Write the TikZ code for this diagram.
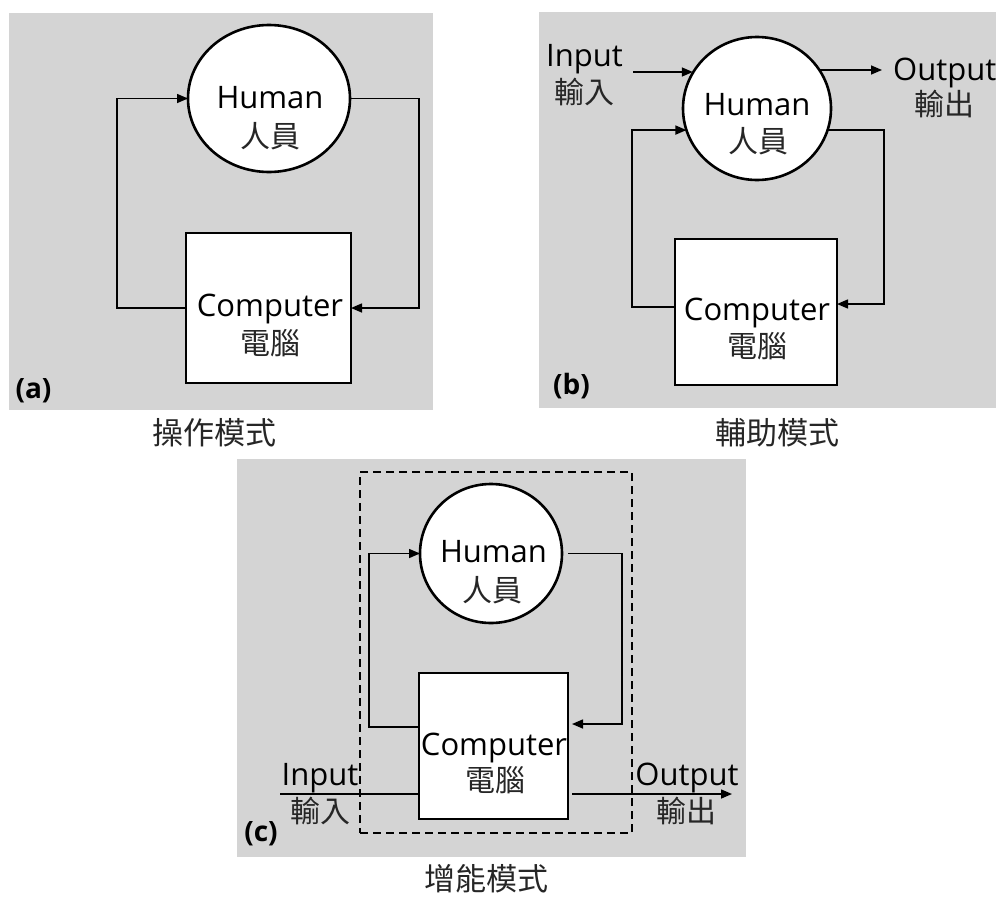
\documentclass[tikz,border=0pt]{standalone}
\usepackage{fontspec}
\setmainfont{Open Sans}
\newfontfamily\cjk{Noto Sans CJK TC}
\usetikzlibrary{arrows.meta,shapes.geometric}
\definecolor{panelgray}{RGB}{212,212,212}

\begin{document}
\begin{tikzpicture}[x=1pt,y=-1pt,
  panel/.style={fill=panelgray,draw=none},
  human/.style={ellipse,draw=black,line width=2.6pt,fill=white,inner sep=0,outer sep=0},
  machine/.style={rectangle,draw=black,line width=2.6pt,fill=white,inner sep=0,outer sep=0},
  augbox/.style={rectangle,draw=black,line width=2.6pt,dash pattern=on 8pt off 5pt,inner sep=0,outer sep=0},
  link/.style={draw=black,line width=1.5pt},
  flow/.style={link,-{Triangle[length=11pt,width=9pt]}},
  lat/.style={font=\fontsize{31}{36}\selectfont,inner sep=0},
  zh/.style={font=\fontsize{30}{36}\selectfont\cjk,inner sep=0,text=black!85},
  tag/.style={font=\fontsize{28}{32}\selectfont\bfseries,inner sep=0},
  modecap/.style={font=\fontsize{31}{36}\selectfont\cjk,inner sep=0,text=black!85}]

\useasboundingbox (0,0) rectangle (996,897);
\clip (0,0) rectangle (996,897);

% grey panels
\fill[panel] (9,13) rectangle (433,410);
\fill[panel] (539,12) rectangle (996,408);
\fill[panel] (237,459) rectangle (746,857);

% ---------- (a) operation mode ----------
\node[human,minimum width=162pt,minimum height=147pt] (ha) at (269,98.5) {};
\node[machine,minimum width=165pt,minimum height=150pt] (ca) at (268.5,308) {};
\node[lat] (ha1) at (270,98) {Human};
\node[zh] (ha2) at (270,136) {人員};
\node[lat,anchor=base] (ca1) at (270,316) {Computer};
\node[zh] (ca2) at (270,343.5) {電腦};
\coordinate (al) at (117,200);
\coordinate (ar) at (419,200);
\draw[flow] (ca.west) -- (al |- ca.west) |- (ha.west);
\draw[flow] (ha.east) -- (ar |- ha.east) |- (ca.east);
\node[tag] (ta) at (33.5,390.5) {(a)};
\node[modecap] (capa) at (214,433) {操作模式};

% ---------- (b) assistance mode ----------
\node[human,minimum width=148pt,minimum height=143pt] (hb) at (757,108.5) {};
\node[machine,minimum width=162pt,minimum height=146pt] (cb) at (756,312) {};
\node[lat] (hb1) at (757,105) {Human};
\node[zh] (hb2) at (758,141.5) {人員};
\node[lat,anchor=base] (cb1) at (757,320) {Computer};
\node[zh] (cb2) at (757,346.5) {電腦};
\coordinate (bl) at (632,200);
\coordinate (br) at (884,200);
\coordinate (bfl) at ([yshift=5pt]cb.west);
\coordinate (bfr) at ([yshift=8pt]cb.east);
\draw[flow] (bfl) -- (bl |- bfl) |- (hb.197);
\draw[flow] (hb.343) -- (br |- hb.343) |- (bfr);
\coordinate (inb) at (633,72);
\coordinate (outb) at (882,70);
\draw[flow] (inb) -- (inb -| hb.151);
\draw[flow] (outb -| hb.31) -- (outb);
\node[lat,anchor=base] (inb1) at (584.5,66) {Input};
\node[zh] (inb2) at (584,91.5) {輸入};
\node[lat,anchor=base west] (outb1) at (893,80) {Output};
\node[zh] (outb2) at (944,104) {輸出};
\node[tag] (tb) at (571.5,386.5) {(b)};
\node[modecap] (capb) at (777,432.5) {輔助模式};

% ---------- (c) augmentation mode ----------
\node[augbox,minimum width=272pt,minimum height=361pt] (aug) at (496,652.5) {};
\node[human,minimum width=142pt,minimum height=139pt] (hc) at (491,553.5) {};
\node[machine,minimum width=149pt,minimum height=146pt] (cc) at (493.5,746) {};
\node[lat] (hc1) at (493.5,551.5) {Human};
\node[zh] (hc2) at (492.5,590) {人員};
\node[lat,anchor=base] (cc1) at (494,755) {Computer};
\node[zh] (cc2) at (495,780) {電腦};
\coordinate (cl) at (369,650);
\coordinate (cr) at (622,650);
\coordinate (cfl) at ([yshift=19pt]cc.west);
\coordinate (cfr) at ([yshift=22pt,xshift=4pt]cc.east);
\draw[flow] (cfl) -- (cl |- cfl) |- (hc.west);
\draw[flow] ([xshift=6pt]hc.east) -- (cr |- hc.east) |- (cfr);
\coordinate (inc) at (280,794);
\coordinate (outc) at (732,794);
\draw[link] (inc) -- (inc -| cc.west);
\draw[flow] (outc -| cc.east) ++(4,0) -- (outc);
\node[lat,anchor=base] (inc1) at (320,785) {Input};
\node[zh] (inc2) at (320,811) {輸入};
\node[lat,anchor=base] (outc1) at (687,785) {Output};
\node[zh] (outc2) at (686.5,811) {輸出};
\node[tag] (tc) at (261,834) {(c)};
\node[modecap] (capc) at (486.5,879) {增能模式};
\end{tikzpicture}
\end{document}
